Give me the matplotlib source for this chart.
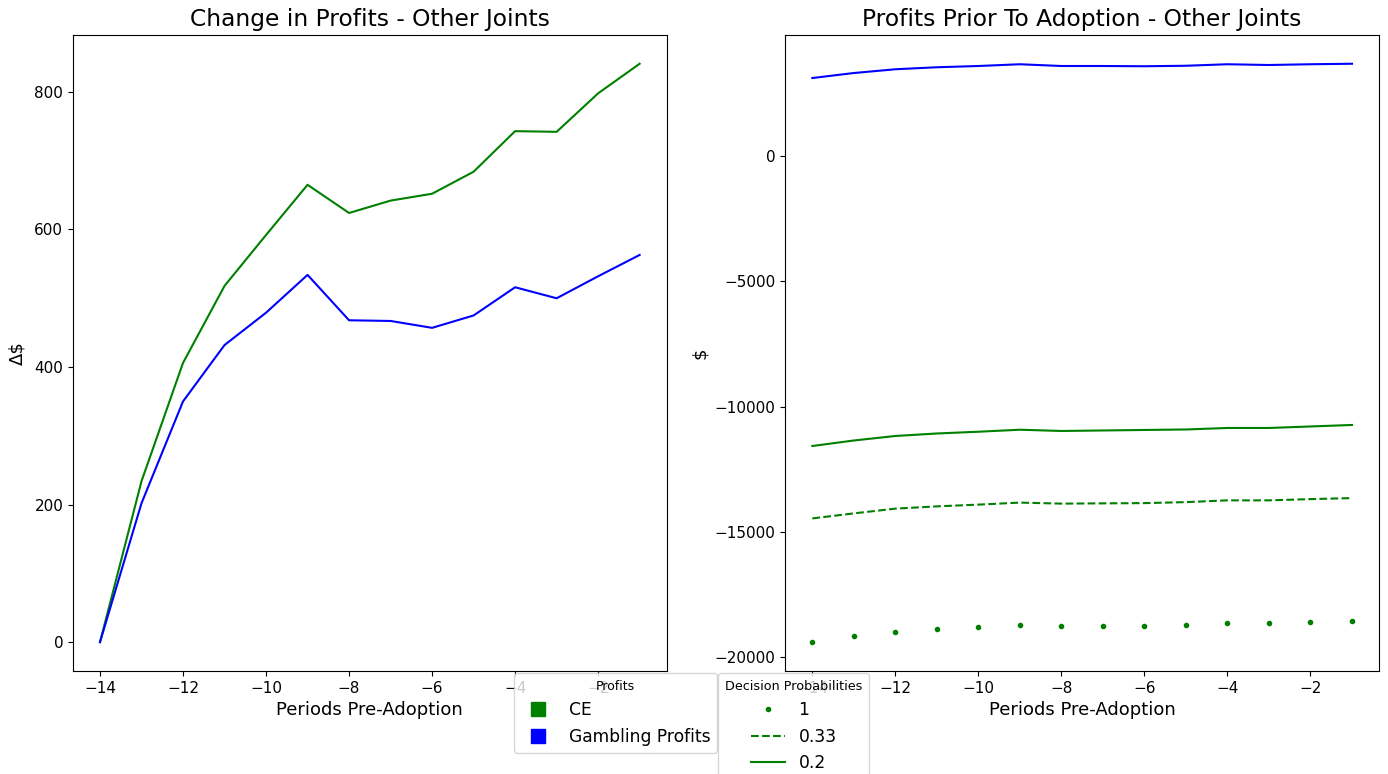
import matplotlib
matplotlib.use("Agg")
import matplotlib.pyplot as plt
from matplotlib.lines import Line2D

# periods before adoption
periods = [-14, -13, -12, -11, -10, -9, -8, -7, -6, -5, -4, -3, -2, -1]

# left panel: change in profits
change_ce = [0, 234, 406, 518, 592, 665, 624, 642, 652, 684, 743, 742, 798, 841]
change_gamble = [0, 202, 350, 432, 479, 534, 468, 467, 457, 475, 516, 500, 532, 563]

# right panel: profits prior to adoption
gamble_profits = [3120, 3320, 3470, 3550, 3600, 3670, 3600, 3600, 3590, 3610, 3670, 3640, 3670, 3690]
ce_p1 = [-19400, -19160, -18990, -18880, -18810, -18730, -18770, -18760, -18750,
         -18720, -18650, -18650, -18600, -18550]
ce_p033 = [-14460, -14260, -14070, -13980, -13910, -13830, -13870, -13860, -13850,
           -13810, -13740, -13740, -13690, -13650]
ce_p02 = [-11570, -11350, -11170, -11070, -11000, -10920, -10970, -10950, -10930,
          -10910, -10850, -10850, -10790, -10730]

prob_labels = ["1", "0.33", "0.2"]
profit_labels = ["CE", "Gambling Profits"]

plt.rcParams.update({"font.size": 12, "xtick.labelsize": 11, "ytick.labelsize": 11})

fig, (ax1, ax2) = plt.subplots(1, 2, figsize=(13.88, 7.74), dpi=100)
fig.subplots_adjust(left=0.0526, right=0.9935, top=0.955, bottom=0.133, wspace=0.2)

ax1.plot(periods, change_ce, color="green")
ax1.plot(periods, change_gamble, color="blue")
ax1.set_title("Change in Profits - Other Joints", fontsize=16.8)
ax1.set_xlabel("Periods Pre-Adoption", fontsize=13)
ax1.set_ylabel("Δ$", fontsize=13, labelpad=6)

ax2.plot(periods, gamble_profits, color="blue")
ax2.plot(periods, ce_p1, color="green", linestyle="None", marker=".", markersize=6)
ax2.plot(periods, ce_p033, color="green", linestyle="--")
ax2.plot(periods, ce_p02, color="green", linestyle="-")
ax2.set_title("Profits Prior To Adoption - Other Joints", fontsize=16.8)
ax2.set_xlabel("Periods Pre-Adoption", fontsize=13)
ax2.set_ylabel("$", fontsize=13)

prof_handles = [Line2D([], [], color=c, marker="s", linestyle="None", markersize=10)
                for c in ["green", "blue"]]
leg1 = fig.legend(prof_handles, profit_labels, title="Profits", loc="upper right",
                  bbox_to_anchor=(717 / 1388, 1 - 673 / 774), borderaxespad=0,
                  fontsize=12.3, title_fontsize=9)

prob_handles = [Line2D([], [], color="green", marker=".", linestyle="None"),
                Line2D([], [], color="green", linestyle="--"),
                Line2D([], [], color="green", linestyle="-")]
leg2 = fig.legend(prob_handles, prob_labels, title="Decision Probabilities", loc="upper left",
                  bbox_to_anchor=(718 / 1388, 1 - 673 / 774), borderaxespad=0,
                  fontsize=12.3, title_fontsize=9.2)

fig.savefig("out.png", dpi=100)
